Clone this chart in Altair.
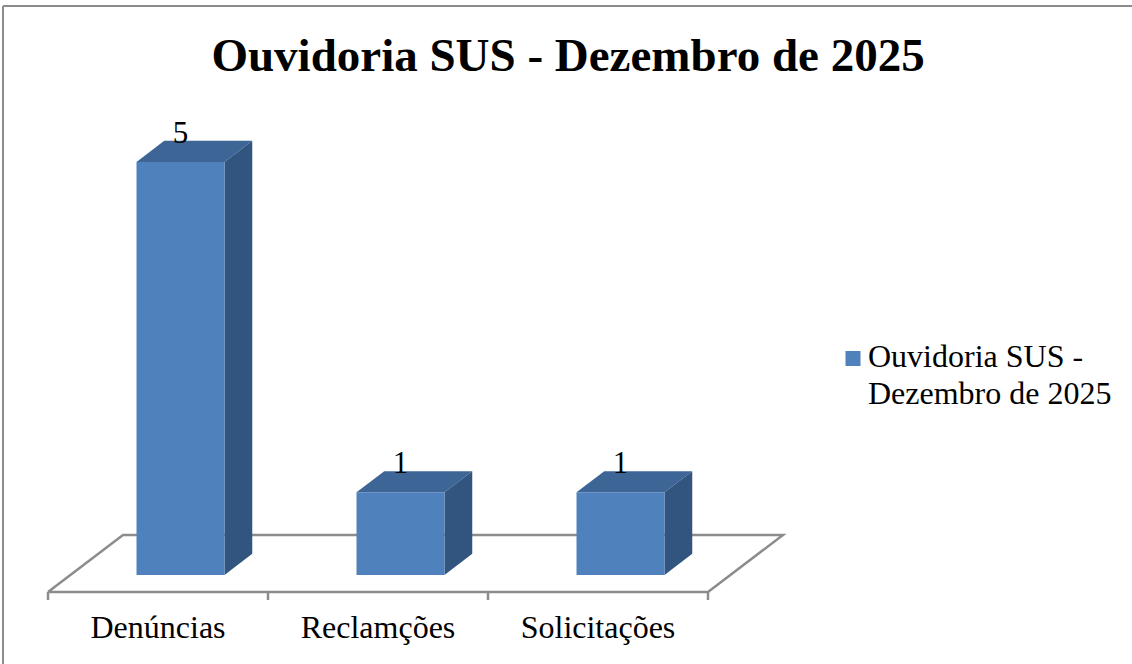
import altair as alt
import pandas as pd

# ---- data ----
categories = ["Denúncias", "Reclamções", "Solicitações"]
values = [5, 1, 1]
chart_title = "Ouvidoria SUS - Dezembro de 2025"
legend_lines = ["Ouvidoria SUS -", "Dezembro de 2025"]

# ---- style / projection ----
FRONT = "#4F81BD"
TOP = "#3D6697"
SIDE = "#32557F"
GRID = "#8C8C8C"
FONT = "Liberation Serif"

KX = 75 / 220     # depth shift in category units (per unit depth)
KY = 57 / 82.6    # depth shift in value units (per unit depth)
D0, D1 = 0.30, 0.67
BL, BR = 0.30, 0.70

n = len(categories)
front = pd.DataFrame({
    "cat": categories,
    "v": values,
    "x": [i + BL + KX * D0 for i in range(n)],
    "x2": [i + BR + KX * D0 for i in range(n)],
    "y": [KY * D0] * n,
    "y2": [v + KY * D0 for v in values],
    "lx": [i + 0.5 + KX * D0 for i in range(n)],
})

side_rows, top_rows = [], []
for i, v in enumerate(values):
    for d in (D0, D1):
        side_rows.append({"bar": i, "x": i + BR + KX * d, "ylo": KY * d, "yhi": v + KY * d})
        top_rows.append({"bar": i, "y": v + KY * d, "xl": i + BL + KX * d, "xr": i + BR + KX * d})
side = pd.DataFrame(side_rows)
top = pd.DataFrame(top_rows)

floor = pd.DataFrame({
    "x": [0, n, n + KX, KX, 0],
    "y": [0, 0, KY, KY, 0],
    "o": [0, 1, 2, 3, 4],
})
ticks = pd.DataFrame({"x": list(range(n + 1)), "y": [0] * (n + 1)})
axis_lab = pd.DataFrame({"x": [i + 0.5 for i in range(n)], "y": [0] * n, "cat": categories})

xs = alt.Scale(domain=[-48 / 220, (1132 - 48) / 220], nice=False, zero=False)
ys = alt.Scale(domain=[-72 / 82.6, 592 / 82.6], nice=False, zero=False)


def X(f):
    return alt.X(f, type="quantitative", scale=xs, axis=None)


def Y(f):
    return alt.Y(f, type="quantitative", scale=ys, axis=None)


one = pd.DataFrame({"a": [0]})

border_top = alt.Chart(one).mark_rule(color=GRID, strokeWidth=2).encode(
    x=alt.value(3), x2=alt.value(1132), y=alt.value(6))
border_left = alt.Chart(one).mark_rule(color=GRID, strokeWidth=2).encode(
    x=alt.value(3), y=alt.value(6), y2=alt.value(664))

floor_l = alt.Chart(floor).mark_line(color=GRID, strokeWidth=2.5).encode(
    x=X("x"), y=Y("y"), order="o:O")
ticks_l = alt.Chart(ticks).mark_rule(color=GRID, strokeWidth=2.5, y2Offset=8).encode(
    x=X("x"), y=Y("y"), y2="y")

top_l = alt.Chart(top).mark_area(color=TOP, orient="horizontal", opacity=1).encode(
    y=Y("y"), x=X("xl"), x2="xr", detail="bar:N")
side_l = alt.Chart(side).mark_area(color=SIDE, orient="vertical", opacity=1).encode(
    x=X("x"), y=Y("yhi"), y2="ylo", detail="bar:N")
front_l = alt.Chart(front).mark_rect(color=FRONT).encode(
    x=X("x"), x2="x2", y=Y("y"), y2="y2")

val_l = alt.Chart(front).mark_text(font=FONT, fontSize=31, color="black",
                                    baseline="alphabetic", dy=-19).encode(
    x=X("lx"), y=Y("y2"), text="v:Q")
cat_l = alt.Chart(axis_lab).mark_text(font=FONT, fontSize=32, color="black",
                                       baseline="alphabetic", dy=46).encode(
    x=X("x"), y=Y("y"), text="cat:N")

title_l = alt.Chart(one).mark_text(font=FONT, fontSize=47, fontWeight="bold", color="black",
                                    baseline="alphabetic", align="center").encode(
    x=alt.value(568), y=alt.value(71), text=alt.value(chart_title))

leg_sq = alt.Chart(one).mark_square(color=FRONT, size=225, opacity=1).encode(
    x=alt.value(853), y=alt.value(358.5))
leg_t1 = alt.Chart(one).mark_text(font=FONT, fontSize=32, color="black",
                                   baseline="alphabetic", align="left").encode(
    x=alt.value(868), y=alt.value(367), text=alt.value(legend_lines[0]))
leg_t2 = alt.Chart(one).mark_text(font=FONT, fontSize=32, color="black",
                                   baseline="alphabetic", align="left").encode(
    x=alt.value(868), y=alt.value(404), text=alt.value(legend_lines[1]))

chart = alt.layer(
    border_top, border_left, floor_l, ticks_l, top_l, side_l, front_l,
    val_l, cat_l, title_l, leg_sq, leg_t1, leg_t2
).properties(
    width=1132, height=664, padding=0,
    autosize=alt.AutoSizeParams(type="none"),
    background="white",
).configure_view(stroke=None)

chart.save("out.html", embed_options={"renderer": "svg", "actions": False})
